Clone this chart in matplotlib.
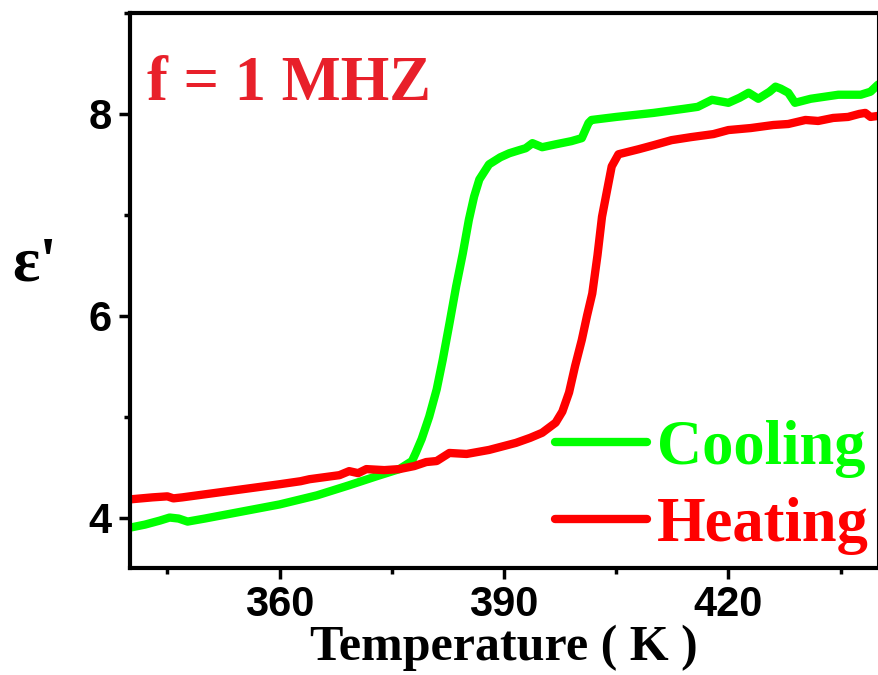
import matplotlib
matplotlib.use("Agg")
import matplotlib.pyplot as plt
from matplotlib.ticker import MultipleLocator

cool_T = [340, 342, 344, 345.3, 346.5, 347.7, 350, 355, 360, 365, 369.3, 373, 376, 377.7,
          378.2, 379, 380, 381, 381.8, 382.7, 383.6, 384.5, 385.3, 386, 386.7, 388, 389.5,
          390.7, 392, 392.9, 393.8, 395.1, 397, 399, 400.4, 401.3, 401.7, 405, 410, 414,
          415.9, 417.8, 420, 421.5, 422.7, 424, 425.5, 426.3, 427, 428, 428.9, 431, 434.7,
          437.7, 439, 440]
cool_eps = [3.9, 3.93, 3.97, 4.0, 3.99, 3.96, 3.99, 4.06, 4.13, 4.22, 4.32, 4.41, 4.48, 4.56,
            4.64, 4.78, 5.0, 5.27, 5.56, 5.92, 6.29, 6.62, 6.95, 7.18, 7.35, 7.5, 7.57,
            7.61, 7.64, 7.66, 7.71, 7.67, 7.70, 7.73, 7.76, 7.91, 7.94, 7.97, 8.01, 8.05,
            8.07, 8.14, 8.11, 8.16, 8.21, 8.15, 8.22, 8.27, 8.25, 8.21, 8.11, 8.15, 8.19,
            8.19, 8.22, 8.29]

heat_T = [340, 343, 345, 345.8, 347, 350, 355, 360, 362.8, 364, 366, 368, 369.3, 370.5,
          371.6, 374, 376, 378, 379.6, 381, 382.7, 385, 388, 391.6, 393.5, 395.1, 396.9,
          397.8, 398.7, 399.5, 400.4, 401.1, 401.8, 402.5, 403.1, 403.8, 404.4, 405.3, 408,
          410, 412.4, 415, 418, 420, 423, 426, 428, 430.3, 432, 434, 436, 437.5, 438.3,
          439, 440]
heat_eps = [4.18, 4.2, 4.21, 4.19, 4.2, 4.23, 4.28, 4.33, 4.36, 4.38, 4.40, 4.42, 4.46, 4.44,
            4.48, 4.47, 4.48, 4.51, 4.55, 4.56, 4.64, 4.63, 4.67, 4.74, 4.79, 4.84, 4.94,
            5.05, 5.24, 5.5, 5.76, 6.0, 6.22, 6.6, 6.98, 7.25, 7.48, 7.6, 7.65,
            7.69, 7.74, 7.77, 7.80, 7.84, 7.86, 7.89, 7.90, 7.94, 7.93, 7.96, 7.97, 8.0, 8.01,
            7.97, 7.98]

x_ticks = [360, 390, 420]
y_ticks = [4, 6, 8]

fig = plt.figure(figsize=(8.79, 6.75), dpi=100)
ax = fig.add_axes([130/879, 1-568/675, 748/879, 555/675])

ax.plot(cool_T, cool_eps, color="#00ff00", lw=6, label="Cooling", solid_capstyle="round")
ax.plot(heat_T, heat_eps, color="#ff0000", lw=6, label="Heating", solid_capstyle="round")

ax.set_xlim(340, 440)
ax.set_ylim(3.5, 9.0)
ax.set_xticks(x_ticks)
ax.set_yticks(y_ticks)
ax.xaxis.set_minor_locator(MultipleLocator(15))
ax.yaxis.set_minor_locator(MultipleLocator(1))

for s in ["left", "bottom", "top"]:
    ax.spines[s].set_linewidth(3)
ax.spines["right"].set_linewidth(1.5)

ax.tick_params(axis="both", which="major", direction="out", length=8, width=2.5,
               top=False, right=False)
ax.tick_params(axis="both", which="minor", direction="out", length=4.5, width=2.5,
               top=False, right=False)
ax.tick_params(axis="x", which="major", pad=4)
ax.tick_params(axis="y", which="major", pad=5)
for lab in ax.get_xticklabels() + ax.get_yticklabels():
    lab.set_fontfamily("Liberation Sans")
    lab.set_fontweight("bold")
    lab.set_fontsize(30)

ax.set_xlabel("Temperature ( K )", fontfamily="Liberation Serif", fontweight="bold",
              fontsize=36, labelpad=0)
fig.text(35/879, 1-266/675, "ε'", fontfamily="Liberation Serif", fontweight="bold",
         fontsize=46, ha="center", va="center")

ax.text(147/879, 1-100/675, "f = 1 MHZ", transform=fig.transFigure,
        fontfamily="Liberation Serif", fontweight="bold", fontsize=45,
        color="#e8202a", ha="left", va="baseline")

leg = ax.legend(loc="upper left", bbox_to_anchor=(555/879, 1-420/675),
                bbox_transform=fig.transFigure, frameon=False, borderpad=0,
                borderaxespad=0, handlelength=1.47, handletextpad=0.16,
                labelspacing=0.3, labelcolor="linecolor",
                prop={"family": "Liberation Serif", "weight": "bold", "size": 45})

fig.savefig("out.png", dpi=100)
